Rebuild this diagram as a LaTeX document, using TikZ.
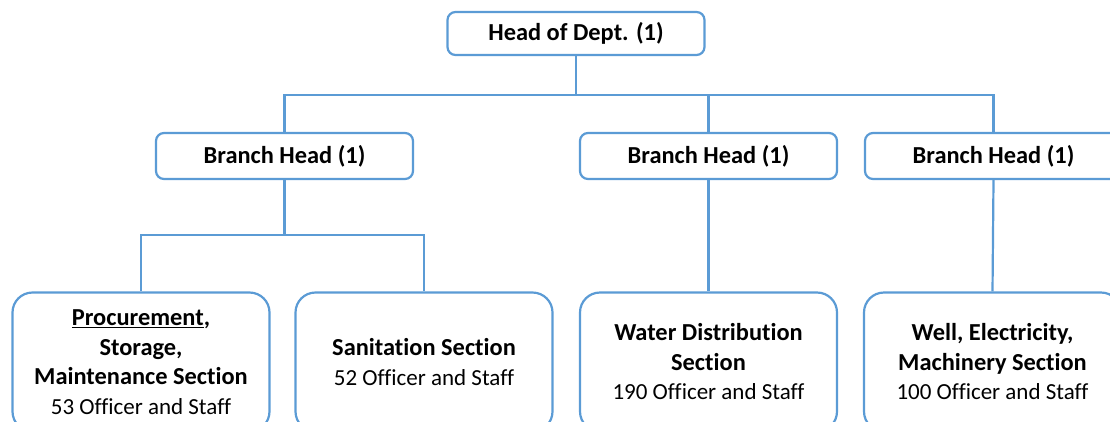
\documentclass[tikz,border=0pt]{standalone}
\usepackage{fontspec}
\setmainfont{Carlito}[Ligatures=NoCommon]
\usepackage{xcolor}
\usetikzlibrary{positioning}
\definecolor{orgblue}{HTML}{5B9BD5}

\begin{document}
\begin{tikzpicture}[x=1pt,y=-1pt,
  head/.style={draw=orgblue,line width=2.2pt,fill=white,rounded corners=8pt,
    minimum width=257pt,inner sep=0pt,font=\fontsize{24.4}{29}\selectfont\bfseries},
  section/.style={draw=orgblue,line width=2.2pt,fill=white,rounded corners=20pt,
    minimum width=257pt,minimum height=139pt,inner sep=0pt,align=center,
    font=\fontsize{24.4}{29.5}\selectfont\bfseries},
  link/.style={draw=orgblue,line width=2.2pt}
]
\useasboundingbox (0,0) rectangle (1110,421);
\node[head,minimum height=43pt] (dept) at (576,33.5) {Head of Dept. (1)};
\node[head,minimum height=46pt] (b1) at (284.5,156) {Branch Head (1)};
\node[head,minimum height=46pt] (b2) at (708.5,156) {Branch Head (1)};
\node[head,minimum height=46pt] (b3) at (993.5,156) {Branch Head (1)};
\node[section] (s1) at (141,362) {\underline{Procurement},\\Storage,\\Maintenance Section\\{\fontsize{23}{29.5}\selectfont\mdseries 53 Officer and Staff}};
\node[section] (s2) at (424,362) {Sanitation Section\\{\fontsize{23}{29.5}\selectfont\mdseries 52 Officer and Staff}};
\node[section] (s3) at (708.5,362) {Water Distribution\\Section\\{\fontsize{23}{29.5}\selectfont\mdseries 190 Officer and Staff}};
\node[section] (s4) at (992.5,362) {Well, Electricity,\\Machinery Section\\{\fontsize{23}{29.5}\selectfont\mdseries 100 Officer and Staff}};
\coordinate (bus) at (576,95);
\coordinate (split) at (284.5,235);
\draw[link] (dept.south) -- (bus);
\draw[link] (b1.north) |- (bus) -| (b3.north);
\draw[link] (b2.north) -- (b2.north |- bus);
\draw[link] (b1.south) -- (split);
\draw[link] (s1.north) |- (split) -| (s2.north);
\draw[link] (b2.south) -- (s3.north);
\draw[link] (b3.south) -- (s4.north);
\end{tikzpicture}
\end{document}
